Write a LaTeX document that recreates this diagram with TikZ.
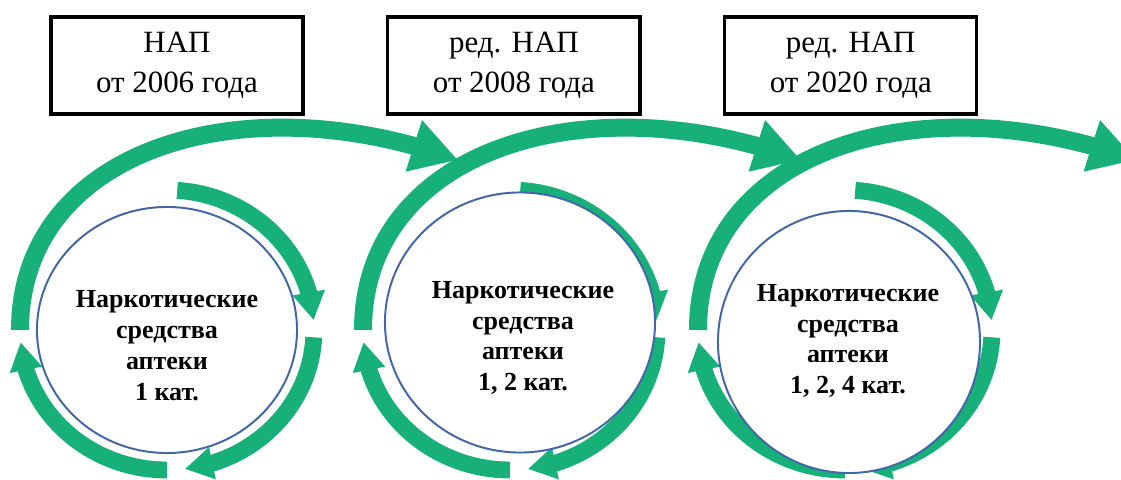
\documentclass[tikz,border=0pt]{standalone}
\usepackage{fontspec}
\setmainfont{Liberation Serif}
\usetikzlibrary{positioning,shapes.geometric,arrows.meta,bending,calc}
\definecolor{ringgreen}{RGB}{22,176,120}
\definecolor{rimblue}{RGB}{66,103,168}

\begin{document}
\begin{tikzpicture}[x=0.025cm,y=0.025cm,node distance=8.42cm,on grid,
	yearbox/.style={draw,line width=2.3pt,minimum width=6.3cm,minimum height=2.42cm,align=center,font=\fontsize{22}{28.5}\selectfont},
	stock/.style={ellipse,draw=rimblue,line width=1.4pt,fill=white,inner sep=0pt},
	stocktext/.style={align=center,font=\fontsize{18.5}{22}\selectfont\bfseries},
	cyc/.style={ringgreen,line width=12pt,-{Triangle[width=22pt,length=20pt]}},
	leap/.style={ringgreen,line width=12.8pt,-{Triangle[width=36pt,length=33pt]}}]
	\useasboundingbox (0,0) rectangle (1121,480);
	\clip (0,0) rectangle (1121,480);
	\node[yearbox] (b_1) at (177,414.5) {НАП\\от 2006 года};
	\node[yearbox] (b_2) [right=of b_1] {ред. НАП\\от 2008 года};
	\node[yearbox] (b_3) [right=of b_2] {ред. НАП\\от 2020 года};
	\coordinate (r_1) at (167,150);
	\coordinate (r_2) at (510,150);
	\coordinate (r_3) at (845,150);
	\foreach \r in {r_1,r_2,r_3} {
		\draw[cyc] ([shift={(86:147 and 140)}]\r) arc[start angle=86,end angle=4,x radius=147,y radius=140];
		\draw[cyc] ([shift={(-3:147 and 140)}]\r) arc[start angle=-3,end angle=-83,x radius=147,y radius=140];
		\draw[cyc] ([shift={(-90:147 and 140)}]\r) arc[start angle=-90,end angle=-175,x radius=147,y radius=140];
		\draw[leap] ($(\r)+(-147,0)$) .. controls ($(\r)+(-147,180)$) and ($(\r)+(75,249)$) .. ($(\r)+(291,170)$);
	}
	\node[stock,minimum width=6.5cm,minimum height=6.15cm] (c_1) at (167,150) {};
	\node[stock,minimum width=6.75cm,minimum height=6.5cm] (c_2) at (520,157.5) {};
	\node[stock,minimum width=6.55cm,minimum height=6.55cm] (c_3) at (849,138) {};
	\node[stocktext] (t_1) at (167,134.5) {Наркотические\\средства\\аптеки\\1 кат.};
	\node[stocktext] (t_2) at (523,142) {Наркотические\\средства\\аптеки\\1, 2 кат.};
	\node[stocktext] (t_3) at (848,139) {Наркотические\\средства\\аптеки\\1, 2, 4 кат.};
\end{tikzpicture}
\end{document}
